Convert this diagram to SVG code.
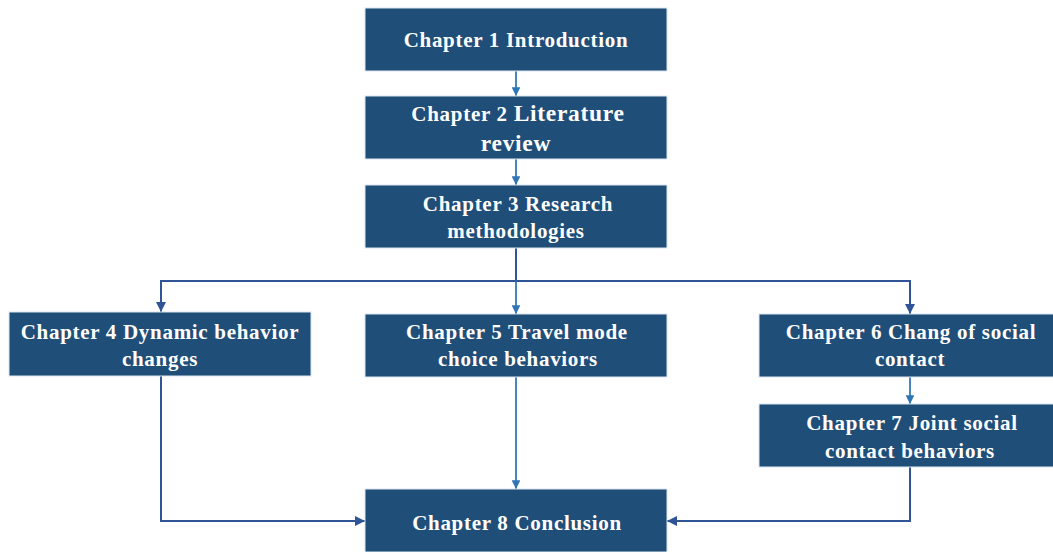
<svg xmlns="http://www.w3.org/2000/svg" width="1053" height="552" viewBox="0 0 1053 552">
  <style>
    .box { fill: #1F4E79; stroke: #DCE6F2; stroke-width: 1; }
    .lbl { font-family: "Liberation Serif", "Times New Roman", serif; font-weight: bold; font-size: 21px; letter-spacing: 0.7px; fill: #FFFFFF; text-anchor: middle; }
    .big { font-size: 23.5px; }
    .main { fill: none; stroke: #2F5597; stroke-width: 2; }
    .short { fill: none; stroke: #2E75B6; stroke-width: 1.75; }
  </style>
  <defs>
    <marker id="arrDark" viewBox="0 0 10 10" refX="10" refY="5" markerWidth="5" markerHeight="5" orient="auto" markerUnits="strokeWidth">
      <path d="M0,0 L10,5 L0,10 Z" fill="#2F5597"/>
    </marker>
    <marker id="arrLight" viewBox="0 0 10 10" refX="10" refY="5" markerWidth="5" markerHeight="5" orient="auto" markerUnits="strokeWidth">
      <path d="M0,0 L10,5 L0,10 Z" fill="#2E75B6"/>
    </marker>
  </defs>

  <rect width="1053" height="552" fill="#FFFFFF"/>

  <g id="connectors">
    <line class="short" x1="516" y1="71" x2="516" y2="96" marker-end="url(#arrLight)"/>
    <line class="short" x1="516" y1="159" x2="516" y2="185" marker-end="url(#arrLight)"/>
    <line class="main" x1="516" y1="248" x2="516" y2="281"/>
    <polyline class="main" points="516,281 161,281 161,312" marker-end="url(#arrDark)"/>
    <polyline class="main" points="516,281 910,281 910,314" marker-end="url(#arrDark)"/>
    <line class="short" x1="516" y1="281" x2="516" y2="314" marker-end="url(#arrLight)"/>
    <line class="short" x1="910" y1="377" x2="910" y2="404" marker-end="url(#arrLight)"/>
    <line class="short" x1="516" y1="377" x2="516" y2="489" marker-end="url(#arrLight)"/>
    <polyline class="main" points="161,376 161,521 365,521" marker-end="url(#arrDark)"/>
    <polyline class="main" points="910,467 910,521 667,521" marker-end="url(#arrDark)"/>
  </g>

  <g id="ch1">
    <rect class="box" x="365" y="8" width="302" height="63"/>
    <text class="lbl" x="516" y="47">Chapter 1 Introduction</text>
  </g>
  <g id="ch2">
    <rect class="box" x="365" y="96" width="302" height="63"/>
    <text class="lbl" x="518" y="121">Chapter 2 <tspan class="big">Literature</tspan></text>
    <text class="lbl big" x="516" y="151">review</text>
  </g>
  <g id="ch3">
    <rect class="box" x="365" y="185" width="302" height="63"/>
    <text class="lbl" x="518" y="211">Chapter 3 Research</text>
    <text class="lbl" x="516" y="238">methodologies</text>
  </g>
  <g id="ch4">
    <rect class="box" x="9" y="312" width="302" height="64"/>
    <text class="lbl" x="160" y="339">Chapter 4 Dynamic behavior</text>
    <text class="lbl" x="160" y="366">changes</text>
  </g>
  <g id="ch5">
    <rect class="box" x="365" y="314" width="302" height="63"/>
    <text class="lbl" x="517" y="339">Chapter 5 Travel mode</text>
    <text class="lbl" x="518" y="366">choice behaviors</text>
  </g>
  <g id="ch6">
    <rect class="box" x="759" y="314" width="302" height="63"/>
    <text class="lbl" x="911" y="339">Chapter 6 Chang of social</text>
    <text class="lbl" x="910" y="366">contact</text>
  </g>
  <g id="ch7">
    <rect class="box" x="759" y="404" width="302" height="63"/>
    <text class="lbl" x="912" y="430">Chapter 7 Joint social</text>
    <text class="lbl" x="910" y="458">contact behaviors</text>
  </g>
  <g id="ch8">
    <rect class="box" x="365" y="489" width="302" height="63"/>
    <text class="lbl" x="517" y="530">Chapter 8 Conclusion</text>
  </g>
</svg>
